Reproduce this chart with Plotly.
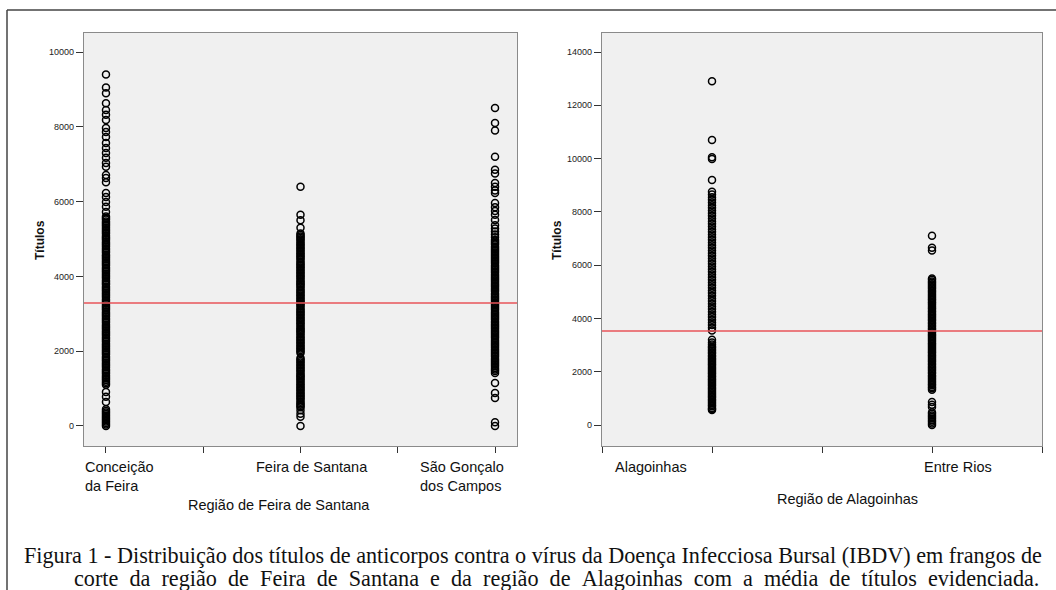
import plotly.graph_objects as go

# ---------------- data ----------------
left_categories = ["Conceição<br>da Feira", "Feira de Santana", "São Gonçalo<br>dos Campos"]
right_categories = ["Alagoinhas", "Entre Rios"]

conceicao = [9400, 9050, 8900, 8630, 8450, 8320, 8180, 7970, 7860, 7730, 7570, 7430, 7300,
             7170, 7030, 6930, 6710, 6630, 6520, 6230, 6120, 5990, 5860, 5720,
             5600, 5560, 5520, 5470, 5430, 5390, 5350, 5300, 5260, 5220, 5180, 5140, 5090,
             5050, 5010, 4970, 4920, 4880, 4840, 4800, 4750, 4710, 4670, 4630, 4580, 4540,
             4500, 4460, 4410, 4370, 4330, 4290, 4240, 4200, 4160, 4120, 4070, 4030, 3990,
             3950, 3900, 3860, 3820, 3780, 3730, 3690, 3650, 3610, 3560, 3520, 3480, 3440,
             3390, 3350, 3310, 3270, 3220, 3180, 3140, 3100, 3050, 3010, 2970, 2930, 2880,
             2840, 2800, 2760, 2710, 2670, 2630, 2590, 2540, 2500, 2460, 2420, 2370, 2330,
             2290, 2250, 2200, 2160, 2120, 2080, 2030, 1990, 1950, 1910, 1860, 1820, 1780,
             1740, 1690, 1650, 1610, 1570, 1520, 1480, 1440, 1400, 1350, 1310, 1270, 1230,
             1180, 1140, 1100, 910, 780, 640, 450, 400, 360, 320, 280, 240, 200, 160, 120,
             80, 40, 0]
feira = [6400, 5650, 5500, 5300,
         5150, 5110, 5070, 5030, 4990, 4950, 4900, 4860, 4820, 4780, 4740, 4700, 4650, 4610,
         4570, 4530, 4490, 4450, 4400, 4360, 4320, 4280, 4240, 4200, 4150, 4110, 4070, 4030,
         3990, 3950, 3900, 3860, 3820, 3780, 3740, 3700, 3650, 3610, 3570, 3530, 3490, 3450,
         3400, 3360, 3320, 3280, 3240, 3200, 3150, 3110, 3070, 3030, 2990, 2950, 2900, 2860,
         2820, 2780, 2740, 2700, 2650, 2610, 2570, 2530, 2490, 2450, 2400, 2360, 2320, 2280,
         2240, 2200, 2150, 2110, 2070, 2030, 1990, 1950,
         1820, 1780, 1740, 1700, 1650, 1610, 1570, 1530, 1490, 1450, 1400, 1360, 1320, 1280,
         1240, 1200, 1150, 1110, 1070, 1030, 990, 950, 900, 860, 820, 780, 740, 700, 650,
         610, 570, 530, 500, 420, 330, 250, 0]
sao_goncalo = [8500, 8100, 7900, 7200, 6850, 6750, 6500, 6400, 6300, 6230, 5960, 5850,
               5750, 5650, 5510, 5370, 5280, 5200, 5120, 5050,
               4970, 4930, 4890, 4850, 4800, 4760, 4720, 4680, 4640, 4600, 4550, 4510, 4470,
               4430, 4390, 4350, 4300, 4260, 4220, 4180, 4140, 4100, 4050, 4010, 3970, 3930,
               3890, 3850, 3800, 3760, 3720, 3680, 3640, 3600, 3550, 3510, 3470, 3430, 3390,
               3350, 3300, 3260, 3220, 3180, 3140, 3100, 3050, 3010, 2970, 2930, 2890, 2850,
               2800, 2760, 2720, 2680, 2640, 2600, 2550, 2510, 2470, 2430, 2390, 2350, 2300,
               2260, 2220, 2180, 2140, 2100, 2050, 2010, 1970, 1930, 1890, 1850, 1800, 1760,
               1720, 1680, 1640, 1600, 1550, 1510, 1470, 1420, 1150, 880, 750, 100, 0]
alagoinhas = [12900, 10700, 10050, 9980, 9200,
              8750, 8650, 8550, 8450, 8350, 8250, 8150, 8050, 7950, 7850, 7750, 7650, 7550,
              7450, 7350, 7250, 7150, 7050, 6950, 6850, 6750, 6650, 6550, 6450, 6350, 6250,
              6150, 6050, 5950, 5850, 5750, 5650, 5550, 5450, 5350, 5250, 5150, 5050, 4950,
              4850, 4750, 4650, 4550, 4450, 4350, 4250, 4150, 4050, 3950, 3850, 3750, 3650,
              3550, 3200, 3100, 3020,
              2950, 2900, 2840, 2790, 2730, 2680, 2620, 2570, 2510, 2460, 2400, 2350, 2290,
              2240, 2180, 2130, 2070, 2020, 1960, 1910, 1850, 1800, 1740, 1690, 1630, 1580,
              1520, 1470, 1410, 1360, 1300, 1250, 1190, 1140, 1080, 1030, 970, 920, 860, 810,
              750, 700, 640, 600, 560]
entre_rios = [7100, 6650, 6550,
              5500, 5450, 5390, 5340, 5280, 5230, 5170, 5120, 5060, 5010, 4950, 4900, 4840,
              4790, 4730, 4680, 4620, 4570, 4510, 4460, 4400, 4350, 4290, 4240, 4180, 4130,
              4070, 4020, 3960, 3910, 3850, 3800, 3740, 3690, 3630, 3580, 3520, 3470, 3410,
              3360, 3300, 3250, 3190, 3140, 3080, 3030, 2970, 2920, 2860, 2810, 2750, 2700,
              2640, 2590, 2530, 2480, 2420, 2370, 2310, 2260, 2200, 2150, 2090, 2040, 1980,
              1930, 1870, 1820, 1760, 1710, 1650, 1600, 1540, 1490, 1430, 1380, 1320,
              860, 760, 680, 480, 420, 360, 300, 240, 180, 120, 60, 0]

mean_left = 3290
mean_right = 3530

left_yticks = [0, 2000, 4000, 6000, 8000, 10000]
right_yticks = [0, 2000, 4000, 6000, 8000, 10000, 12000, 14000]

caption_line1 = ("Figura 1 - Distribuição dos títulos de anticorpos contra o vírus da Doença "
                 "Infecciosa Bursal (IBDV) em frangos de")
caption_line2 = ("corte da região de Feira de Santana e da região de Alagoinhas com a média "
                 "de títulos evidenciada.")

# ---------------- figure ----------------
W, H = 1056, 590
def px(x):
    return x / W
def py(y):
    return 1 - y / H

fig = go.Figure()
marker = dict(symbol="circle-open", size=7, color="black", line=dict(width=1.5, color="black"))

for i, vals in enumerate([conceicao, feira, sao_goncalo]):
    fig.add_trace(go.Scatter(x=[i] * len(vals), y=vals, mode="markers", marker=marker,
                             xaxis="x", yaxis="y", showlegend=False, hoverinfo="y"))
for i, vals in enumerate([alagoinhas, entre_rios]):
    fig.add_trace(go.Scatter(x=[i] * len(vals), y=vals, mode="markers", marker=marker,
                             xaxis="x2", yaxis="y2", showlegend=False, hoverinfo="y"))

# mean lines
fig.add_trace(go.Scatter(x=[-0.2, 2.2], y=[mean_left, mean_left], mode="lines",
                         line=dict(color="#e8555a", width=1.5), xaxis="x", yaxis="y",
                         showlegend=False, hoverinfo="skip"))
fig.add_trace(go.Scatter(x=[-0.6, 1.6], y=[mean_right, mean_right], mode="lines",
                         line=dict(color="#e8555a", width=1.5), xaxis="x2", yaxis="y2",
                         showlegend=False, hoverinfo="skip"))

y_dom = [py(446), py(33)]
common_x = dict(showgrid=False, zeroline=False, showline=True, linecolor="#8a8a8a",
                linewidth=1.2, mirror=True, ticks="outside", ticklen=6, tickcolor="#333",
                showticklabels=False)
common_y = dict(showgrid=False, zeroline=False, showline=True, linecolor="#8a8a8a",
                linewidth=1.2, mirror=True, ticks="outside", ticklen=7, tickcolor="#333",
                tickfont=dict(family="Liberation Sans", size=9, color="#222"))

fig.update_layout(
    width=W, height=H,
    margin=dict(l=0, r=0, t=0, b=0),
    paper_bgcolor="white",
    plot_bgcolor="#f0f0f0",
    xaxis=dict(domain=[px(84), px(517)], range=[-0.113, 2.113],
               tickvals=[0, 0.5, 1, 1.5, 2], **common_x),
    yaxis=dict(domain=y_dom, range=[-535, 10508], tickvals=left_yticks,
               ticktext=[str(v) for v in left_yticks], **common_y),
    xaxis2=dict(domain=[px(602), px(1042)], range=[-0.5, 1.5], anchor="y2",
                tickvals=[-0.5, 0, 0.5, 1, 1.5], **common_x),
    yaxis2=dict(domain=y_dom, range=[-788, 14713], tickvals=right_yticks,
                ticktext=[str(v) for v in right_yticks], anchor="x2", **common_y),
)

ann = []
cat_font = dict(family="Liberation Sans", size=14.5, color="#111")
left_label_x = [83, 254, 418]
for lbl, x in zip(left_categories, left_label_x):
    ann.append(dict(text=lbl, x=px(x), y=py(457), xref="paper", yref="paper",
                    xanchor="left", yanchor="top", showarrow=False, align="left",
                    font=cat_font))
right_label_x = [613, 922]
for lbl, x in zip(right_categories, right_label_x):
    ann.append(dict(text=lbl, x=px(x), y=py(457), xref="paper", yref="paper",
                    xanchor="left", yanchor="top", showarrow=False, align="left",
                    font=cat_font))

ann.append(dict(text="Região de Feira de Santana", x=px(279), y=py(505), xref="paper",
                yref="paper", xanchor="center", yanchor="middle", showarrow=False,
                font=dict(family="Liberation Sans", size=14.5, color="#111")))
ann.append(dict(text="Região de Alagoinhas", x=px(847), y=py(499), xref="paper",
                yref="paper", xanchor="center", yanchor="middle", showarrow=False,
                font=dict(family="Liberation Sans", size=14.5, color="#111")))
for xx in [40, 557]:
    ann.append(dict(text="<b>Títulos</b>", x=px(xx), y=py(240), xref="paper", yref="paper",
                    xanchor="center", yanchor="middle", showarrow=False, textangle=-90,
                    font=dict(family="Liberation Sans", size=12, color="#111")))

cap_font = dict(family="Liberation Serif", size=22.2, color="#111")
ann.append(dict(text=caption_line1, x=px(22), y=py(555), xref="paper", yref="paper",
                xanchor="left", yanchor="middle", showarrow=False, font=cap_font))
# second caption line is justified in the reference: widen the word gaps
ann.append(dict(text=caption_line2.replace(" ", " \u00a0"), x=px(72), y=py(578),
                xref="paper", yref="paper", xanchor="left", yanchor="middle",
                showarrow=False, font=cap_font))
fig.update_layout(annotations=ann)

# outer frame (only the left and top edges fall inside the picture)
frame = dict(color="#444", width=1.5)
fig.add_shape(type="line", xref="paper", yref="paper", x0=px(7), x1=px(7), y0=0,
              y1=py(10), line=frame, layer="above")
fig.add_shape(type="line", xref="paper", yref="paper", x0=px(7), x1=1, y0=py(10),
              y1=py(10), line=frame, layer="above")

fig.write_html("out.html", config={"displayModeBar": False},
               post_script="document.body.style.margin='0';document.body.style.overflow='hidden';")
